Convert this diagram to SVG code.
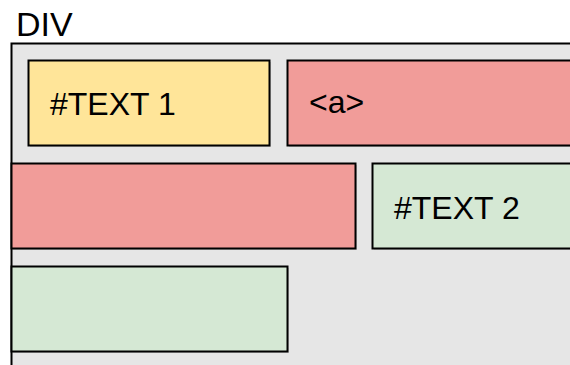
<svg xmlns="http://www.w3.org/2000/svg" width="570" height="365" viewBox="0 0 570 365">
<style>
.box{stroke:#000;stroke-width:2}
.sh{fill:#b3b3b3;opacity:0.6}
.t{font-family:"Liberation Sans",Arial,sans-serif;font-size:32px;fill:#000}
</style>
<rect width="570" height="365" fill="#fff"/>
<g id="div">
<text class="t" x="16" y="36" style="font-size:34px">DIV</text>
<rect x="13" y="45" width="570" height="330" class="sh"/>
<rect x="11.5" y="43.5" width="570" height="330" fill="#e6e6e6" class="box"/>
</g>
<g id="text1">
<rect x="30" y="62" width="241" height="85" class="sh"/>
<rect x="28.5" y="60.5" width="241" height="85" fill="#ffe599" class="box"/>
<text class="t" x="50" y="115">#TEXT 1</text>
</g>
<g id="a">
<rect x="289" y="62" width="300" height="85" class="sh"/>
<rect x="287.5" y="60.5" width="300" height="85" fill="#f19c99" class="box"/>
<text class="t" x="309" y="113">&lt;a&gt;</text>
</g>
<g id="red2">
<rect x="13" y="165" width="344" height="85" class="sh"/>
<rect x="11.5" y="163.5" width="344" height="85" fill="#f19c99" class="box"/>
</g>
<g id="text2">
<rect x="374" y="165" width="220" height="85" class="sh"/>
<rect x="372.5" y="163.5" width="220" height="85" fill="#d5e8d4" class="box"/>
<text class="t" x="394" y="219">#TEXT 2</text>
</g>
<g id="green2">
<rect x="13" y="268" width="276" height="85" class="sh"/>
<rect x="11.5" y="266.5" width="276" height="85" fill="#d5e8d4" class="box"/>
</g>
<g id="connectors"/>
</svg>
